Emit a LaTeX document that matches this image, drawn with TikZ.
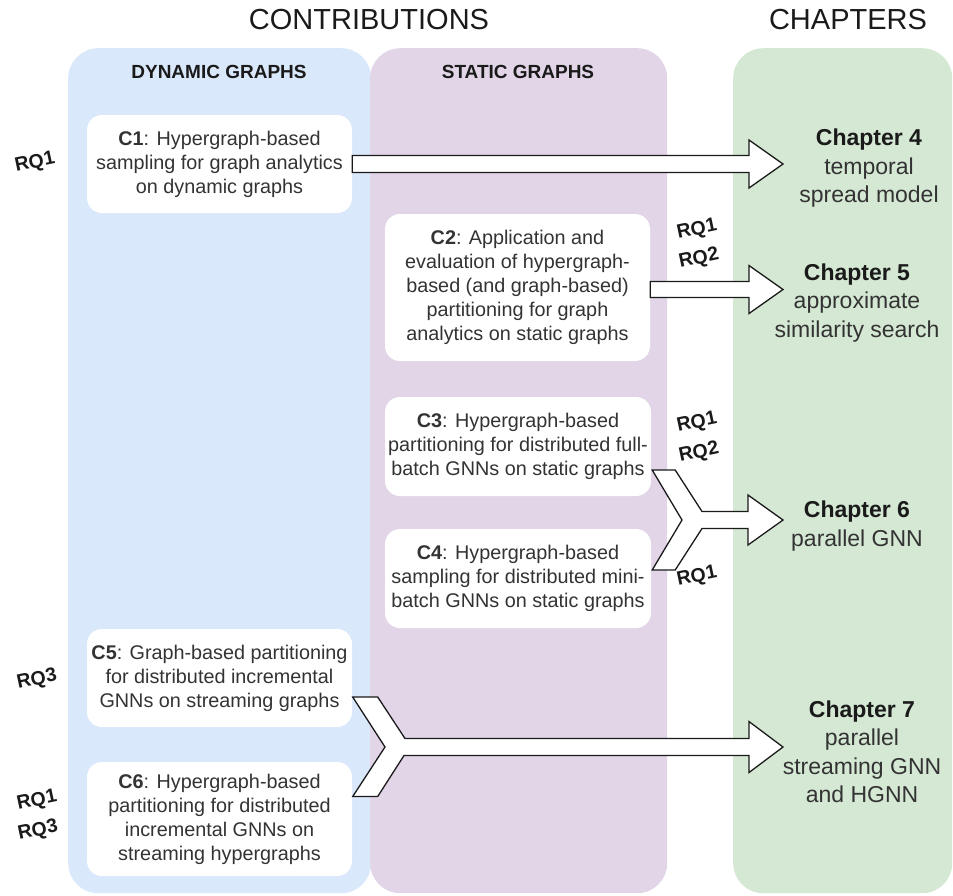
\documentclass[tikz,border=0pt]{standalone}
\usepackage{fontspec}
\setmainfont{Liberation Sans}
\usetikzlibrary{calc}
\definecolor{dynblue}{HTML}{DAE8FC}
\definecolor{statpurple}{HTML}{E1D5E7}
\definecolor{chapgreen}{HTML}{D5E8D4}
\definecolor{txt}{HTML}{333333}
\definecolor{ink}{HTML}{1A1A1A}
\begin{document}
\begin{tikzpicture}[x=1pt,y=-1pt,
  column/.style={rectangle, rounded corners=30pt, anchor=north west, inner sep=0pt, draw=none},
  contrib/.style={rectangle, rounded corners=15pt, fill=white, inner sep=0pt, align=center,
    font=\fontsize{19.8}{24}\selectfont, text=txt},
  chap/.style={align=center, font=\fontsize{23}{28.5}\selectfont, text=txt, inner sep=0pt},
  rq/.style={font=\fontsize{19.5}{22}\selectfont\bfseries, rotate=12, inner sep=0pt, text=ink},
  blockarrow/.style={draw=ink, fill=white, line width=1.3pt, line join=miter},
  title/.style={font=\fontsize{29}{33}\selectfont, inner sep=0pt, text=ink},
  header/.style={font=\fontsize{19}{22}\selectfont\bfseries, inner sep=0pt, text=ink}]
\useasboundingbox (0,0) rectangle (953,895);

% columns
\node[column, fill=dynblue, minimum width=303pt, minimum height=845pt] (dyn) at (68,48) {};
\node[column, fill=statpurple, minimum width=297pt, minimum height=845pt] (stat) at (370,48) {};
\node[column, fill=chapgreen, minimum width=219pt, minimum height=845pt] (chapcol) at (733,48) {};

% titles
\node[title] (contribs) at (369,20) {CONTRIBUTIONS};
\node[title] (chapters) at (848,20) {CHAPTERS};
\node[header] (dynh) at (219,72) {DYNAMIC GRAPHS};
\node[header] (stath) at (518,72) {STATIC GRAPHS};

% contributions
\node[contrib, minimum width=265pt, minimum height=98pt] (c1) at (219.5,164)
  {\textbf{C1}: Hypergraph-based\\sampling for graph analytics\\on dynamic graphs};
\node[contrib, minimum width=265pt, minimum height=147pt] (c2) at (517.5,287.5)
  {\textbf{C2}: Application and\\evaluation of hypergraph-\\based (and graph-based)\\partitioning for graph\\analytics on static graphs};
\node[contrib, minimum width=266pt, minimum height=99pt] (c3) at (518,446.5)
  {\textbf{C3}: Hypergraph-based\\partitioning for distributed full-\\batch GNNs on static graphs};
\node[contrib, minimum width=266pt, minimum height=99pt] (c4) at (518,578.5)
  {\textbf{C4}: Hypergraph-based\\sampling for distributed mini-\\batch GNNs on static graphs};
\node[contrib, minimum width=265pt, minimum height=98pt] (c5) at (219.5,678)
  {\textbf{C5}: Graph-based partitioning\\for distributed incremental\\GNNs on streaming graphs};
\node[contrib, minimum width=265pt, minimum height=114pt] (c6) at (219.5,819)
  {\textbf{C6}: Hypergraph-based\\partitioning for distributed\\incremental GNNs on\\streaming hypergraphs};

% chapters
\node[chap] (ch4) at (869,168.5) {\textcolor{ink}{\textbf{Chapter 4}}\\temporal\\spread model};
\node[chap] (ch5) at (857,303) {\textcolor{ink}{\textbf{Chapter 5}}\\approximate\\similarity search};
\node[chap] (ch6) at (857,526) {\textcolor{ink}{\textbf{Chapter 6}}\\parallel GNN};
\node[chap] (ch7) at (862,752) {\textcolor{ink}{\textbf{Chapter 7}}\\parallel\\streaming GNN\\and HGNN};

% research questions
\node[rq] (rqa) at (35,163) {RQ1};
\node[rq] (rqb1) at (697,230) {RQ1};
\node[rq] (rqb2) at (699,259) {RQ2};
\node[rq] (rqc1) at (697,423) {RQ1};
\node[rq] (rqc2) at (699,453) {RQ2};
\node[rq] (rqd) at (697,577) {RQ1};
\node[rq] (rqe) at (37,680) {RQ3};
\node[rq] (rqf1) at (37,801) {RQ1};
\node[rq] (rqf2) at (38,831) {RQ3};

% arrows
\coordinate (t4) at (783,164);
\draw[blockarrow] ($(c1.east |- t4)+(0,-8.5)$) -- ($(t4)+(-34,-8.5)$) -- ($(t4)+(-34,-24)$)
  -- (t4) -- ($(t4)+(-34,24)$) -- ($(t4)+(-34,8.5)$) -- ($(c1.east |- t4)+(0,8.5)$) -- cycle;

\coordinate (t5) at (783,289.5);
\draw[blockarrow] ($(c2.east |- t5)+(0,-8)$) -- ($(t5)+(-34,-8)$) -- ($(t5)+(-34,-24)$)
  -- (t5) -- ($(t5)+(-34,24)$) -- ($(t5)+(-34,8)$) -- ($(c2.east |- t5)+(0,8)$) -- cycle;

\coordinate (n6) at (682,520);
\coordinate (t6) at (783,520);
\draw[blockarrow] ($(c3.east |- n6)+(1,-50)$) -- ++(23,0) -- ($(n6)+(20,-8.5)$)
  -- ($(t6)+(-35,-8.5)$) -- ($(t6)+(-35,-25)$) -- (t6) -- ($(t6)+(-35,25)$)
  -- ($(t6)+(-35,8.5)$) -- ($(n6)+(20,8.5)$) -- ($(c4.east |- n6)+(24,50)$) -- ++(-23,0)
  -- (n6) -- cycle;

\coordinate (n7) at (385,747);
\coordinate (t7) at (783,747);
\draw[blockarrow] ($(c5.east |- n7)+(0.5,-50)$) -- ++(25,0) -- ($(n7)+(20,-8.5)$)
  -- ($(t7)+(-34,-8.5)$) -- ($(t7)+(-34,-25.5)$) -- (t7) -- ($(t7)+(-34,25.5)$)
  -- ($(t7)+(-34,8.5)$) -- ($(n7)+(19,8.5)$) -- ($(c6.east |- n7)+(25.5,49.5)$) -- ++(-25,0)
  -- (n7) -- cycle;
\end{tikzpicture}
\end{document}
